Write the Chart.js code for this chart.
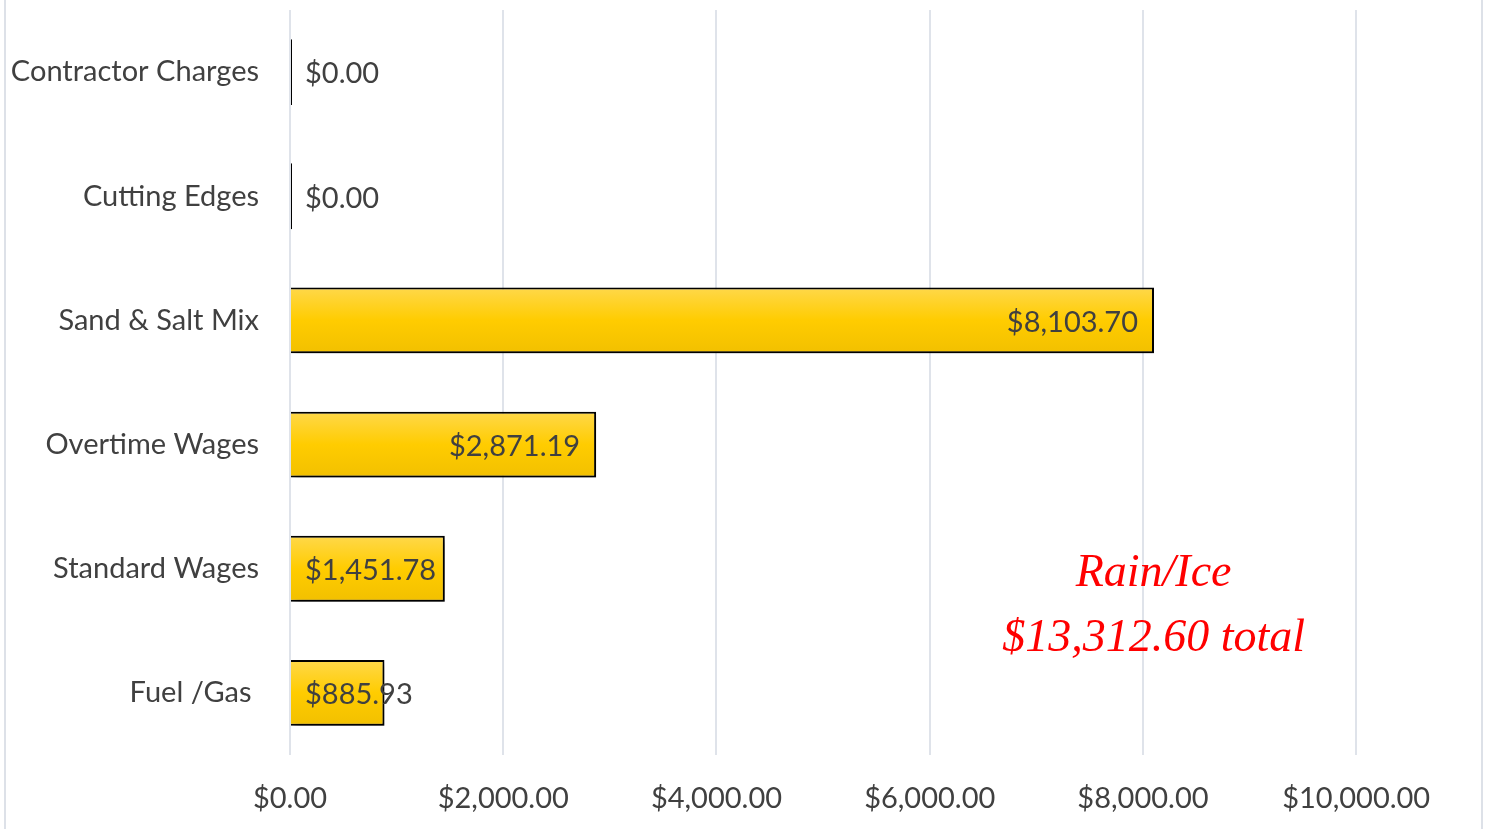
<!DOCTYPE html>
<html>
<head>
<meta charset="utf-8">
<script src="https://cdn.jsdelivr.net/npm/chart.js@4/dist/chart.umd.min.js"></script>
<style>
  html, body { margin: 0; padding: 0; background: #fff; }
  #wrap { position: relative; width: 1488px; height: 829px; }
</style>
</head>
<body>
<div id="wrap"><canvas id="costChart" width="1488" height="829"></canvas></div>
<script>
const categories = ['Contractor Charges', 'Cutting Edges', 'Sand & Salt Mix', 'Overtime Wages', 'Standard Wages', 'Fuel /Gas '];
const costs = [0, 0, 8103.70, 2871.19, 1451.78, 885.93];
const tickValues = [0, 2000, 4000, 6000, 8000, 10000];
const titleLines = ['Rain/Ice', '$13,312.60 total'];

const money = v => '$' + v.toLocaleString('en-US', { minimumFractionDigits: 2, maximumFractionDigits: 2 });
const labelFont = '29px Lato';
const barPct = 0.53;

function barGradient(context) {
  const chart = context.chart;
  const y = chart.scales && chart.scales.y;
  const area = chart.chartArea;
  if (!y || !area || context.dataIndex === undefined) return '#FFCC00';
  const center = y.getPixelForValue(context.dataIndex);
  const half = (area.bottom - area.top) / categories.length * barPct / 2;
  if (!isFinite(center) || !isFinite(half)) return '#FFCC00';
  const g = chart.ctx.createLinearGradient(0, center - half, 0, center + half);
  g.addColorStop(0, '#FFD84A');
  g.addColorStop(0.5, '#FFCC00');
  g.addColorStop(1, '#F2C000');
  return g;
}

// shadow under bars + frame lines
const shadowPlugin = {
  id: 'shadow',
  beforeDatasetsDraw(chart) {
    const ctx = chart.ctx;
    ctx.save();
    ctx.shadowColor = 'rgba(0,0,0,0.45)';
    ctx.shadowBlur = 7;
    ctx.shadowOffsetX = 3;
    ctx.shadowOffsetY = 4;
  },
  afterDatasetsDraw(chart) {
    chart.ctx.restore();
  },
  beforeDraw(chart) {
    const ctx = chart.ctx;
    ctx.save();
    ctx.strokeStyle = '#DDE1E8';
    ctx.lineWidth = 2;
    ctx.beginPath();
    ctx.moveTo(5, 0); ctx.lineTo(5, chart.height);
    ctx.moveTo(1482, 0); ctx.lineTo(1482, chart.height);
    ctx.stroke();
    ctx.restore();
  }
};

// value labels: inside end if they fit, else from base
const valueLabels = {
  id: 'valueLabels',
  afterDatasetsDraw(chart) {
    const ctx = chart.ctx;
    const meta = chart.getDatasetMeta(0);
    const base = chart.scales.x.getPixelForValue(0);
    ctx.save();
    ctx.font = labelFont;
    ctx.fillStyle = '#404040';
    ctx.textBaseline = 'middle';
    meta.data.forEach((bar, i) => {
      const text = money(costs[i]);
      const w = ctx.measureText(text).width;
      if (bar.x - base > w + 40) {
        ctx.textAlign = 'right';
        ctx.fillText(text, bar.x - 16, bar.y + 2);
      } else {
        ctx.textAlign = 'left';
        ctx.fillText(text, base + 15, bar.y + 2);
      }
    });
    ctx.restore();
  }
};

const titleText = {
  id: 'titleText',
  afterDraw(chart) {
    const ctx = chart.ctx;
    const cx = chart.scales.x.getPixelForValue(8100);
    ctx.save();
    ctx.font = 'italic 46px "Liberation Serif"';
    ctx.fillStyle = '#FF0000';
    ctx.textAlign = 'center';
    ctx.textBaseline = 'alphabetic';
    ctx.fillText(titleLines[0], cx, 586);
    ctx.fillText(titleLines[1], cx, 651);
    ctx.restore();
  }
};

new Chart(document.getElementById('costChart'), {
  type: 'bar',
  data: {
    labels: categories,
    datasets: [{
      data: costs,
      backgroundColor: barGradient,
      borderColor: '#000000',
      borderWidth: 2,
      borderSkipped: ctx => (costs[ctx.dataIndex] === 0 ? false : 'start'),
      minBarLength: 2,
      categoryPercentage: 1,
      barPercentage: barPct
    }]
  },
  options: {
    indexAxis: 'y',
    responsive: false,
    animation: false,
    events: [],
    layout: { padding: { top: 10, right: 6, left: 0, bottom: 0 } },
    plugins: { legend: { display: false }, tooltip: { enabled: false } },
    scales: {
      x: {
        min: 0,
        max: 11180,
        afterBuildTicks(scale) {
          scale.ticks = tickValues.map(v => ({ value: v }));
        },
        afterFit(scale) {
          scale.height = 74;
          scale.paddingLeft = 0;
          scale.paddingRight = 0;
        },
        grid: { color: '#DFE3EA', lineWidth: 2, drawTicks: false },
        border: { display: false },
        ticks: {
          padding: 26,
          color: '#404040',
          font: { family: 'Lato', size: 29 },
          maxRotation: 0,
          callback: v => money(v)
        }
      },
      y: {
        afterFit(scale) {
          scale.width = 290;
          scale.paddingTop = 0;
          scale.paddingBottom = 0;
        },
        grid: { display: false, drawTicks: false },
        border: { display: false },
        ticks: {
          padding: 31,
          color: '#404040',
          font: { family: 'Lato', size: 29 }
        }
      }
    }
  },
  plugins: [shadowPlugin, valueLabels, titleText]
});
</script>
</body>
</html>
